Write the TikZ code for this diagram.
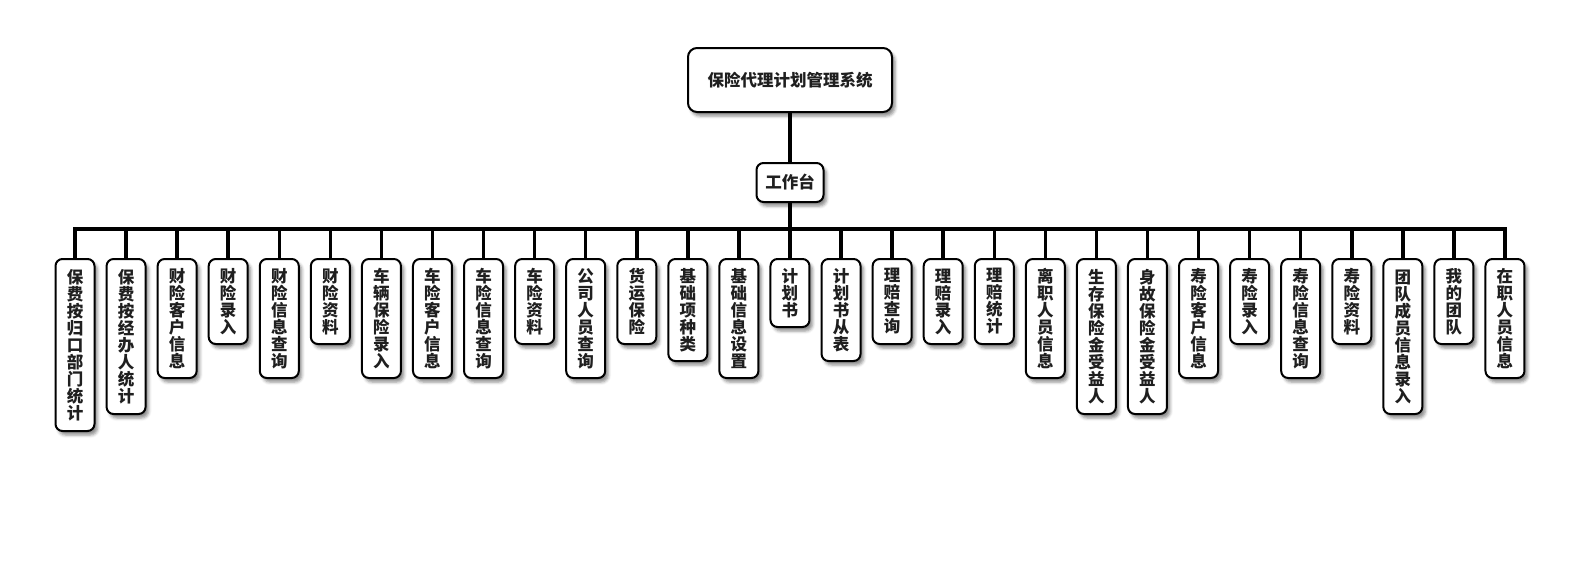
\documentclass[tikz,border=0pt]{standalone}
\usepackage{fontspec}
\setmainfont{Noto Sans CJK SC}
\usetikzlibrary{shadows.blur}
\newcommand\kidnode[3]{\node[kid, minimum height=#2] (c#1) at ({75+51.07*#1},258) {#3};}
\begin{document}
\begin{tikzpicture}[x=1pt,y=-1pt,
  box/.style={draw=black, line width=2pt, fill=white, rounded corners=7pt,
    blur shadow={shadow xshift=3pt, shadow yshift=-4pt, shadow blur radius=3pt, shadow opacity=45},
    font=\fontsize{16.5}{17}\selectfont\bfseries, text=black!88, inner sep=0pt, align=center},
  kid/.style={box, anchor=north, minimum width=39pt},
  link/.style={line width=3.5pt}]
\useasboundingbox (0,0) rectangle (1580,560);
\node[box, rounded corners=9pt, minimum width=204pt, minimum height=64pt] (root) at (790,80) {保险代理计划管理系统};
\node[box, minimum width=67pt, minimum height=39pt] (ws) at (790,182.5) {工作台};
\coordinate (bar) at (790,229);
\kidnode{0}{172}{保\\费\\按\\归\\口\\部\\门\\统\\计}
\kidnode{1}{155}{保\\费\\按\\经\\办\\人\\统\\计}
\kidnode{2}{119}{财\\险\\客\\户\\信\\息}
\kidnode{3}{85}{财\\险\\录\\入}
\kidnode{4}{119}{财\\险\\信\\息\\查\\询}
\kidnode{5}{85}{财\\险\\资\\料}
\kidnode{6}{119}{车\\辆\\保\\险\\录\\入}
\kidnode{7}{119}{车\\险\\客\\户\\信\\息}
\kidnode{8}{119}{车\\险\\信\\息\\查\\询}
\kidnode{9}{85}{车\\险\\资\\料}
\kidnode{10}{119}{公\\司\\人\\员\\查\\询}
\kidnode{11}{85}{货\\运\\保\\险}
\kidnode{12}{102}{基\\础\\项\\种\\类}
\kidnode{13}{119}{基\\础\\信\\息\\设\\置}
\kidnode{14}{68}{计\\划\\书}
\kidnode{15}{102}{计\\划\\书\\从\\表}
\kidnode{16}{85}{理\\赔\\查\\询}
\kidnode{17}{85}{理\\赔\\录\\入}
\kidnode{18}{85}{理\\赔\\统\\计}
\kidnode{19}{119}{离\\职\\人\\员\\信\\息}
\kidnode{20}{155}{生\\存\\保\\险\\金\\受\\益\\人}
\kidnode{21}{155}{身\\故\\保\\险\\金\\受\\益\\人}
\kidnode{22}{119}{寿\\险\\客\\户\\信\\息}
\kidnode{23}{85}{寿\\险\\录\\入}
\kidnode{24}{119}{寿\\险\\信\\息\\查\\询}
\kidnode{25}{85}{寿\\险\\资\\料}
\kidnode{26}{155}{团\\队\\成\\员\\信\\息\\录\\入}
\kidnode{27}{85}{我\\的\\团\\队}
\kidnode{28}{119}{在\\职\\人\\员\\信\\息}
\draw[link] (root) -- (ws);
\foreach \i in {0,...,28} \draw[link] (ws.south) -- (bar) -| (c\i.north);
\end{tikzpicture}
\end{document}
